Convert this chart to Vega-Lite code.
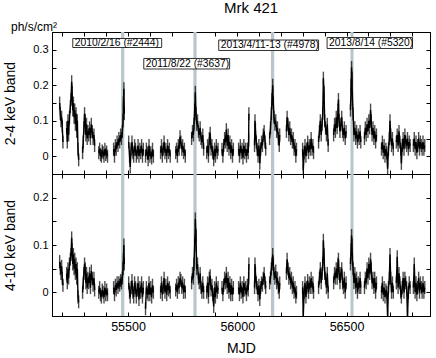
{
"$schema": "https://vega.github.io/schema/vega-lite/v6.json",
"padding": {"left": 3, "top": 0, "right": 4, "bottom": 2},
"bounds": "flush",
"title": {"text": "Mrk 421", "fontSize": 15, "fontWeight": "normal", "font": "Liberation Sans", "color": "#000", "anchor": "middle", "offset": 5, "dx": 34},
"datasets": {
"bands": [{"s":55468,"e":55483},{"s":55799,"e":55814},{"s":56154,"e":56169},{"s":56518,"e":56532}],
"notes": [
{"label":"2010/2/16 (#2444)","x0":55247,"x1":55654,"y0":0.3317,"y1":0.3063,"ym":0.319},
{"label":"2011/8/22 (#3637)","x0":55572,"x1":55965,"y0":0.2754,"y1":0.2458,"ym":0.2606},
{"label":"2013/4/11-13 (#4978)","x0":55915,"x1":56372,"y0":0.3275,"y1":0.2979,"ym":0.3127},
{"label":"2013/8/14 (#5320)","x0":56411,"x1":56802,"y0":0.3345,"y1":0.3035,"ym":0.319}
],
"lc": [
{"g":1,"t":55187,"a":0.15,"b":0.065},{"g":1,"t":55190,"a":0.12,"b":0.05},{"g":1,"t":55193,"a":0.10,"b":0.04},{"g":1,"t":55196,"a":0.11,"b":0.055},{"g":1,"t":55199,"a":0.085,"b":0.03},{"g":1,"t":55202,"a":0.04,"b":0.015},
{"g":2,"t":55219,"a":0.08,"b":0.04},{"g":2,"t":55222,"a":0.04,"b":0.02},{"g":2,"t":55225,"a":0.1,"b":0.05},{"g":2,"t":55228,"a":0.06,"b":0.03},{"g":2,"t":55232,"a":0.11,"b":0.06},{"g":2,"t":55236,"a":0.14,"b":0.07},{"g":2,"t":55239,"a":0.16,"b":0.08},{"g":2,"t":55242,"a":0.21,"b":0.115},{"g":2,"t":55244,"a":0.18,"b":0.09},{"g":2,"t":55247,"a":0.13,"b":0.06},{"g":2,"t":55250,"a":0.15,"b":0.08},{"g":2,"t":55253,"a":0.11,"b":0.05},{"g":2,"t":55256,"a":0.13,"b":0.07},{"g":2,"t":55259,"a":0.09,"b":0.04},{"g":2,"t":55262,"a":0.12,"b":0.06},{"g":2,"t":55265,"a":0.07,"b":0.03},{"g":2,"t":55268,"a":0.1,"b":0.05},{"g":2,"t":55271,"a":0.02,"b":-0.01},{"g":2,"t":55274,"a":-0.01,"b":-0.02},
{"g":3,"t":55292,"a":0.01,"b":0.0},{"g":3,"t":55295,"a":0.04,"b":0.02},{"g":3,"t":55298,"a":0.08,"b":0.04},{"g":3,"t":55301,"a":0.12,"b":0.06},{"g":3,"t":55304,"a":0.1,"b":0.05},{"g":3,"t":55307,"a":0.06,"b":0.02},{"g":3,"t":55310,"a":0.09,"b":0.04},{"g":3,"t":55313,"a":0.05,"b":0.01},{"g":3,"t":55316,"a":0.07,"b":0.03},{"g":3,"t":55320,"a":0.06,"b":0.02},{"g":3,"t":55324,"a":0.08,"b":0.04},{"g":3,"t":55328,"a":0.05,"b":0.01},{"g":3,"t":55332,"a":0.09,"b":0.045},{"g":3,"t":55336,"a":0.07,"b":0.03},{"g":3,"t":55340,"a":0.05,"b":0.015},{"g":3,"t":55344,"a":0.06,"b":0.03},{"g":3,"t":55347,"a":0.03,"b":0.005},
{"g":4,"t":55366,"a":0.01,"b":0.0},{"g":4,"t":55370,"a":0.02,"b":0.01},{"g":4,"t":55374,"a":0.005,"b":-0.005},{"g":4,"t":55378,"a":0.0,"b":-0.01},{"g":4,"t":55382,"a":0.015,"b":0.005},{"g":4,"t":55386,"a":0.01,"b":0.0},{"g":4,"t":55390,"a":0.0,"b":-0.01},{"g":4,"t":55394,"a":0.02,"b":0.01},{"g":4,"t":55398,"a":0.005,"b":-0.005},{"g":4,"t":55402,"a":0.012,"b":0.005},{"g":4,"t":55406,"a":0.0,"b":-0.005},
{"g":5,"t":55434,"a":0.02,"b":0.01},{"g":5,"t":55438,"a":0.0,"b":-0.005},{"g":5,"t":55442,"a":0.03,"b":0.015},{"g":5,"t":55446,"a":0.02,"b":0.005},{"g":5,"t":55450,"a":0.04,"b":0.02},{"g":5,"t":55454,"a":0.03,"b":0.01},{"g":5,"t":55458,"a":0.05,"b":0.02},{"g":5,"t":55462,"a":0.04,"b":0.015},{"g":5,"t":55466,"a":0.06,"b":0.025},{"g":5,"t":55470,"a":0.05,"b":0.02},{"g":5,"t":55474,"a":0.07,"b":0.03},{"g":5,"t":55477,"a":0.1,"b":0.05},{"g":5,"t":55479,"a":0.15,"b":0.07},{"g":5,"t":55481,"a":0.19,"b":0.1},{"g":5,"t":55483,"a":0.12,"b":0.06},
{"g":6,"t":55503,"a":0.04,"b":0.02},{"g":6,"t":55507,"a":0.0,"b":0.0},{"g":6,"t":55510,"a":-0.03,"b":-0.01},{"g":6,"t":55514,"a":0.02,"b":0.01},{"g":6,"t":55518,"a":0.04,"b":0.025},{"g":6,"t":55522,"a":0.01,"b":0.0},{"g":6,"t":55526,"a":0.0,"b":-0.01},{"g":6,"t":55530,"a":0.03,"b":0.02},{"g":6,"t":55534,"a":0.02,"b":0.01},{"g":6,"t":55538,"a":0.0,"b":-0.01},{"g":6,"t":55542,"a":0.01,"b":0.005},{"g":6,"t":55546,"a":0.03,"b":0.02},{"g":6,"t":55550,"a":0.0,"b":-0.015},{"g":6,"t":55554,"a":0.02,"b":0.01},{"g":6,"t":55558,"a":0.01,"b":0.0},{"g":6,"t":55562,"a":0.03,"b":0.02},{"g":6,"t":55566,"a":0.0,"b":-0.01},{"g":6,"t":55570,"a":0.02,"b":0.01},
{"g":7,"t":55580,"a":0.0,"b":-0.035},{"g":7,"t":55584,"a":0.02,"b":0.01},{"g":7,"t":55588,"a":0.01,"b":0.0},{"g":7,"t":55592,"a":-0.01,"b":-0.005},{"g":7,"t":55596,"a":0.03,"b":0.02},{"g":7,"t":55600,"a":0.0,"b":-0.005},{"g":7,"t":55604,"a":0.01,"b":0.01},{"g":7,"t":55608,"a":-0.005,"b":-0.01},{"g":7,"t":55612,"a":0.02,"b":0.015},{"g":7,"t":55616,"a":0.0,"b":0.0},
{"g":8,"t":55649,"a":0.01,"b":0.0},{"g":8,"t":55653,"a":0.03,"b":0.02},{"g":8,"t":55657,"a":0.0,"b":-0.005},{"g":8,"t":55661,"a":0.02,"b":0.01},{"g":8,"t":55665,"a":0.04,"b":0.03},{"g":8,"t":55669,"a":0.01,"b":0.0},{"g":8,"t":55673,"a":0.02,"b":0.015},{"g":8,"t":55677,"a":0.0,"b":-0.005},{"g":8,"t":55681,"a":0.03,"b":0.02},{"g":8,"t":55685,"a":0.01,"b":0.005},{"g":8,"t":55689,"a":0.02,"b":0.01},{"g":8,"t":55693,"a":0.0,"b":0.0},
{"g":9,"t":55718,"a":0.01,"b":0.005},{"g":9,"t":55722,"a":0.02,"b":0.015},{"g":9,"t":55726,"a":0.0,"b":0.0},{"g":9,"t":55730,"a":0.03,"b":0.02},{"g":9,"t":55734,"a":0.02,"b":0.01},{"g":9,"t":55738,"a":0.055,"b":0.03},{"g":9,"t":55742,"a":0.04,"b":0.025},{"g":9,"t":55746,"a":0.02,"b":0.01},{"g":9,"t":55750,"a":0.03,"b":0.02},{"g":9,"t":55754,"a":0.01,"b":0.0},{"g":9,"t":55758,"a":0.02,"b":0.015},{"g":9,"t":55762,"a":0.0,"b":0.0},
{"g":10,"t":55791,"a":0.05,"b":0.02},{"g":10,"t":55795,"a":0.07,"b":0.04},{"g":10,"t":55799,"a":0.06,"b":0.03},{"g":10,"t":55802,"a":0.09,"b":0.06},{"g":10,"t":55805,"a":0.13,"b":0.1},{"g":10,"t":55808,"a":0.18,"b":0.155},{"g":10,"t":55811,"a":0.12,"b":0.12},{"g":10,"t":55814,"a":0.09,"b":0.05},{"g":10,"t":55818,"a":0.1,"b":0.06},{"g":10,"t":55822,"a":0.07,"b":0.03},{"g":10,"t":55826,"a":0.06,"b":0.02},{"g":10,"t":55830,"a":0.08,"b":0.04},{"g":10,"t":55834,"a":0.05,"b":0.01},{"g":10,"t":55838,"a":0.04,"b":0.0},{"g":10,"t":55842,"a":0.06,"b":0.02},{"g":10,"t":55846,"a":0.02,"b":0.0},
{"g":11,"t":55860,"a":0.01,"b":0.0},{"g":11,"t":55864,"a":0.03,"b":0.02},{"g":11,"t":55868,"a":0.0,"b":-0.01},{"g":11,"t":55872,"a":0.05,"b":0.03},{"g":11,"t":55876,"a":0.065,"b":0.035},{"g":11,"t":55880,"a":0.02,"b":0.005},{"g":11,"t":55884,"a":0.03,"b":0.015},{"g":11,"t":55888,"a":0.01,"b":-0.005},{"g":11,"t":55892,"a":-0.01,"b":-0.03},{"g":11,"t":55896,"a":0.02,"b":0.01},{"g":11,"t":55900,"a":0.0,"b":-0.01},{"g":11,"t":55904,"a":0.03,"b":0.02},{"g":11,"t":55908,"a":0.01,"b":0.0},{"g":11,"t":55912,"a":0.02,"b":0.01},
{"g":12,"t":55930,"a":0.02,"b":0.01},{"g":12,"t":55934,"a":0.0,"b":-0.005},{"g":12,"t":55938,"a":0.03,"b":0.015},{"g":12,"t":55942,"a":0.05,"b":0.03},{"g":12,"t":55946,"a":0.04,"b":0.02},{"g":12,"t":55950,"a":0.075,"b":0.04},{"g":12,"t":55954,"a":0.03,"b":0.01},{"g":12,"t":55958,"a":0.06,"b":0.03},{"g":12,"t":55962,"a":0.02,"b":0.0},{"g":12,"t":55966,"a":0.04,"b":0.02},{"g":12,"t":55970,"a":0.01,"b":-0.005},{"g":12,"t":55974,"a":0.03,"b":0.015},{"g":12,"t":55978,"a":0.0,"b":-0.005},{"g":12,"t":55982,"a":0.02,"b":0.01},
{"g":13,"t":56006,"a":0.02,"b":0.01},{"g":13,"t":56010,"a":0.0,"b":-0.005},{"g":13,"t":56014,"a":0.03,"b":0.02},{"g":13,"t":56018,"a":0.01,"b":0.0},{"g":13,"t":56022,"a":0.02,"b":0.01},{"g":13,"t":56026,"a":-0.005,"b":-0.01},{"g":13,"t":56030,"a":0.03,"b":0.02},{"g":13,"t":56034,"a":0.01,"b":0.005},{"g":13,"t":56038,"a":0.02,"b":0.01},{"g":13,"t":56042,"a":0.0,"b":-0.005},{"g":13,"t":56046,"a":0.02,"b":0.015},{"g":13,"t":56050,"a":0.01,"b":0.005},{"g":13,"t":56052,"a":0.045,"b":0.03},{"g":13,"t":56053,"a":0.12,"b":0.06},
{"g":14,"t":56079,"a":0.03,"b":0.01},{"g":14,"t":56081,"a":0.1,"b":0.06},{"g":14,"t":56083,"a":0.075,"b":0.04},{"g":14,"t":56087,"a":0.04,"b":0.02},{"g":14,"t":56091,"a":0.02,"b":0.01},{"g":14,"t":56095,"a":0.0,"b":-0.005},{"g":14,"t":56099,"a":0.03,"b":0.015},{"g":14,"t":56103,"a":-0.02,"b":-0.015},{"g":14,"t":56107,"a":0.02,"b":0.01},{"g":14,"t":56111,"a":0.04,"b":0.02},{"g":14,"t":56115,"a":0.03,"b":0.015},{"g":14,"t":56119,"a":0.06,"b":0.03},{"g":14,"t":56123,"a":0.07,"b":0.04},{"g":14,"t":56127,"a":0.04,"b":0.02},{"g":14,"t":56130,"a":0.02,"b":0.01},
{"g":15,"t":56148,"a":0.05,"b":0.02},{"g":15,"t":56152,"a":0.08,"b":0.03},{"g":15,"t":56156,"a":0.12,"b":0.05},{"g":15,"t":56159,"a":0.16,"b":0.06},{"g":15,"t":56162,"a":0.2,"b":0.08},{"g":15,"t":56165,"a":0.15,"b":0.06},{"g":15,"t":56168,"a":0.11,"b":0.04},{"g":15,"t":56172,"a":0.09,"b":0.03},{"g":15,"t":56176,"a":0.1,"b":0.045},{"g":15,"t":56180,"a":0.07,"b":0.02},{"g":15,"t":56184,"a":0.08,"b":0.03},{"g":15,"t":56188,"a":0.05,"b":0.01},{"g":15,"t":56192,"a":0.03,"b":0.0},{"g":15,"t":56194,"a":0.06,"b":0.02},
{"g":16,"t":56225,"a":0.07,"b":0.04},{"g":16,"t":56228,"a":0.11,"b":0.07},{"g":16,"t":56232,"a":0.09,"b":0.05},{"g":16,"t":56236,"a":0.06,"b":0.03},{"g":16,"t":56240,"a":0.08,"b":0.04},{"g":16,"t":56244,"a":0.05,"b":0.02},{"g":16,"t":56248,"a":0.06,"b":0.03},{"g":16,"t":56252,"a":0.04,"b":0.01},{"g":16,"t":56256,"a":0.05,"b":0.02},{"g":16,"t":56260,"a":0.02,"b":0.0},{"g":16,"t":56264,"a":0.03,"b":0.01},{"g":16,"t":56268,"a":0.0,"b":-0.01},{"g":16,"t":56271,"a":0.02,"b":0.0},
{"g":17,"t":56299,"a":0.02,"b":0.01},{"g":17,"t":56302,"a":-0.04,"b":-0.05},{"g":17,"t":56306,"a":0.01,"b":0.0},{"g":17,"t":56310,"a":0.03,"b":0.02},{"g":17,"t":56314,"a":0.0,"b":-0.01},{"g":17,"t":56318,"a":0.02,"b":0.01},{"g":17,"t":56322,"a":0.04,"b":0.025},{"g":17,"t":56326,"a":0.01,"b":0.0},{"g":17,"t":56330,"a":0.03,"b":0.02},{"g":17,"t":56334,"a":0.02,"b":0.01},{"g":17,"t":56338,"a":0.05,"b":0.03},{"g":17,"t":56342,"a":0.02,"b":0.01},{"g":17,"t":56346,"a":0.03,"b":0.02},{"g":17,"t":56349,"a":0.01,"b":0.0},
{"g":18,"t":56372,"a":0.04,"b":0.01},{"g":18,"t":56376,"a":0.07,"b":0.03},{"g":18,"t":56380,"a":0.1,"b":0.05},{"g":18,"t":56384,"a":0.06,"b":0.02},{"g":18,"t":56388,"a":0.09,"b":0.04},{"g":18,"t":56391,"a":0.12,"b":0.06},{"g":18,"t":56394,"a":0.22,"b":0.11},{"g":18,"t":56397,"a":0.18,"b":0.08},{"g":18,"t":56400,"a":0.1,"b":0.04},{"g":18,"t":56404,"a":0.08,"b":0.03},{"g":18,"t":56408,"a":0.06,"b":0.01},{"g":18,"t":56412,"a":0.09,"b":0.04},{"g":18,"t":56416,"a":0.03,"b":0.0},
{"g":19,"t":56441,"a":0.06,"b":0.02},{"g":19,"t":56445,"a":0.09,"b":0.04},{"g":19,"t":56449,"a":0.07,"b":0.03},{"g":19,"t":56453,"a":0.11,"b":0.05},{"g":19,"t":56457,"a":0.08,"b":0.03},{"g":19,"t":56461,"a":0.13,"b":0.06},{"g":19,"t":56463,"a":0.16,"b":0.07},{"g":19,"t":56466,"a":0.1,"b":0.04},{"g":19,"t":56470,"a":0.07,"b":0.02},{"g":19,"t":56474,"a":0.09,"b":0.04},{"g":19,"t":56478,"a":0.11,"b":0.05},{"g":19,"t":56482,"a":0.07,"b":0.02},{"g":19,"t":56486,"a":0.06,"b":0.01},{"g":19,"t":56490,"a":0.08,"b":0.03},{"g":19,"t":56494,"a":0.05,"b":0.0},{"g":19,"t":56498,"a":0.07,"b":0.02},
{"g":20,"t":56518,"a":0.13,"b":0.06},{"g":20,"t":56521,"a":0.2,"b":0.09},{"g":20,"t":56523,"a":0.25,"b":0.12},{"g":20,"t":56525,"a":0.22,"b":0.1},{"g":20,"t":56527,"a":0.16,"b":0.07},{"g":20,"t":56530,"a":0.12,"b":0.05},{"g":20,"t":56534,"a":0.06,"b":0.02},{"g":20,"t":56538,"a":0.08,"b":0.04},{"g":20,"t":56542,"a":0.05,"b":0.01},{"g":20,"t":56546,"a":0.07,"b":0.03},{"g":20,"t":56550,"a":0.04,"b":0.0},{"g":20,"t":56554,"a":0.06,"b":0.02},{"g":20,"t":56558,"a":0.05,"b":0.01},{"g":20,"t":56562,"a":0.07,"b":0.03},{"g":20,"t":56565,"a":0.04,"b":0.01},
{"g":21,"t":56582,"a":0.05,"b":0.01},{"g":21,"t":56586,"a":0.08,"b":0.03},{"g":21,"t":56590,"a":0.06,"b":0.02},{"g":21,"t":56594,"a":0.09,"b":0.05},{"g":21,"t":56598,"a":0.07,"b":0.03},{"g":21,"t":56602,"a":0.1,"b":0.06},{"g":21,"t":56606,"a":0.08,"b":0.04},{"g":21,"t":56610,"a":0.13,"b":0.07},{"g":21,"t":56613,"a":0.1,"b":0.05},{"g":21,"t":56617,"a":0.06,"b":0.02},{"g":21,"t":56621,"a":0.08,"b":0.03},{"g":21,"t":56625,"a":0.05,"b":0.01},{"g":21,"t":56629,"a":0.07,"b":0.03},{"g":21,"t":56633,"a":0.04,"b":0.0},{"g":21,"t":56637,"a":0.06,"b":0.02},
{"g":22,"t":56660,"a":0.02,"b":0.0},{"g":22,"t":56664,"a":0.04,"b":0.02},{"g":22,"t":56668,"a":0.01,"b":-0.005},{"g":22,"t":56672,"a":0.03,"b":0.01},{"g":22,"t":56676,"a":0.0,"b":-0.01},{"g":22,"t":56680,"a":0.02,"b":0.005},{"g":22,"t":56684,"a":0.01,"b":0.0},{"g":22,"t":56688,"a":-0.035,"b":-0.05},{"g":22,"t":56692,"a":0.02,"b":0.01},{"g":22,"t":56696,"a":0.05,"b":0.03},{"g":22,"t":56699,"a":0.1,"b":0.08},{"g":22,"t":56702,"a":0.06,"b":0.03},{"g":22,"t":56706,"a":0.03,"b":0.0},{"g":22,"t":56710,"a":0.05,"b":0.02},{"g":22,"t":56714,"a":0.02,"b":0.0},
{"g":23,"t":56728,"a":0.04,"b":0.02},{"g":23,"t":56732,"a":0.06,"b":0.075},{"g":23,"t":56736,"a":0.03,"b":0.01},{"g":23,"t":56740,"a":0.07,"b":0.04},{"g":23,"t":56744,"a":0.04,"b":0.02},{"g":23,"t":56748,"a":0.02,"b":0.0},{"g":23,"t":56751,"a":-0.02,"b":-0.01},{"g":23,"t":56755,"a":0.03,"b":0.01},{"g":23,"t":56759,"a":0.05,"b":0.03},{"g":23,"t":56763,"a":0.02,"b":0.0},{"g":23,"t":56767,"a":0.06,"b":0.03},{"g":23,"t":56771,"a":0.04,"b":0.02},{"g":23,"t":56775,"a":0.03,"b":0.01},{"g":23,"t":56779,"a":0.05,"b":-0.05},{"g":23,"t":56783,"a":0.02,"b":0.0},{"g":23,"t":56787,"a":0.04,"b":0.02},{"g":23,"t":56791,"a":0.03,"b":0.01},
{"g":24,"t":56806,"a":0.03,"b":0.01},{"g":24,"t":56810,"a":0.05,"b":0.06},{"g":24,"t":56814,"a":0.02,"b":0.0},{"g":24,"t":56818,"a":0.04,"b":0.02},{"g":24,"t":56822,"a":0.01,"b":-0.005},{"g":24,"t":56826,"a":0.03,"b":0.01},{"g":24,"t":56830,"a":0.05,"b":0.03},{"g":24,"t":56834,"a":0.02,"b":0.0},{"g":24,"t":56838,"a":0.04,"b":0.02},{"g":24,"t":56842,"a":0.03,"b":0.01},{"g":24,"t":56846,"a":0.02,"b":0.0},{"g":24,"t":56850,"a":0.04,"b":0.02},{"g":24,"t":56854,"a":0.02,"b":0.0},{"g":24,"t":56858,"a":0.03,"b":0.01}
]
},
"spacing": 0,
"vconcat": [
{
"width": 378, "height": 142,
"title": {"text": "ph/s/cm²", "anchor": "start", "frame": "group", "dx": -41, "fontSize": 12, "fontWeight": "normal", "offset": -8},
"layer": [
{"data": {"name": "bands"}, "mark": {"type": "rect", "color": "#b9c7cc"},
 "encoding": {"x": {"field": "s", "type": "quantitative", "scale": {"domain": [55152, 56882], "nice": false, "zero": false}, "axis": null}, "x2": {"field": "e"}}},
{"data": {"name": "lc"}, "mark": {"type": "line", "color": "#000", "strokeWidth": 1.4, "clip": true},
 "encoding": {
  "x": {"field": "t", "type": "quantitative", "scale": {"domain": [55152, 56882], "nice": false, "zero": false},
        "axis": {"orient": "bottom", "values": [55200,55300,55400,55500,55600,55700,55800,55900,56000,56100,56200,56300,56400,56500,56600,56700,56800], "labels": false, "title": null}},
  "y": {"field": "a", "type": "quantitative", "scale": {"domain": [-0.05, 0.35], "nice": false, "zero": false},
        "axis": {"orient": "left", "values": [-0.05,0,0.05,0.1,0.15,0.2,0.25,0.3,0.35], "labelOverlap": false, "labelFlush": false,
                 "labelExpr": "abs(datum.value*10-round(datum.value*10))<0.001 ? (abs(datum.value)<0.001 ? '0' : format(datum.value,'.1f')) : ''",
                 "title": "2-4 keV band", "titlePadding": 15}},
  "detail": {"field": "g"}}},
{"data": {"name": "lc"}, "mark": {"type": "tick", "orient": "vertical", "color": "#000", "size": 13, "thickness": 1.4, "clip": true},
 "encoding": {
  "x": {"field": "t", "type": "quantitative", "scale": {"domain": [55152, 56882], "nice": false, "zero": false},
        "axis": {"orient": "top", "values": [55200,55300,55400,55500,55600,55700,55800,55900,56000,56100,56200,56300,56400,56500,56600,56700,56800], "labels": false, "title": null}},
  "y": {"field": "a", "type": "quantitative", "scale": {"domain": [-0.05, 0.35], "nice": false, "zero": false},
        "axis": {"orient": "right", "values": [-0.05,0,0.05,0.1,0.15,0.2,0.25,0.3,0.35], "labels": false, "title": null}}}},
{"data": {"name": "notes"}, "mark": {"type": "rect", "fill": "#fff", "stroke": "#333", "strokeWidth": 1},
 "encoding": {
  "x": {"field": "x0", "type": "quantitative", "scale": {"domain": [55152, 56882], "nice": false, "zero": false}, "axis": null}, "x2": {"field": "x1"},
  "y": {"field": "y0", "type": "quantitative", "scale": {"domain": [-0.05, 0.35], "nice": false, "zero": false}, "axis": null}, "y2": {"field": "y1"}}},
{"data": {"name": "notes"}, "mark": {"type": "text", "align": "left", "baseline": "middle", "dx": 2, "fontSize": 10.3, "color": "#000"},
 "encoding": {
  "x": {"field": "x0", "type": "quantitative", "scale": {"domain": [55152, 56882], "nice": false, "zero": false}, "axis": null},
  "y": {"field": "ym", "type": "quantitative", "scale": {"domain": [-0.05, 0.35], "nice": false, "zero": false}, "axis": null},
  "text": {"field": "label"}}}
],
"resolve": {"axis": {"x": "independent", "y": "independent"}}
},
{
"width": 378, "height": 142,
"layer": [
{"data": {"name": "bands"}, "mark": {"type": "rect", "color": "#b9c7cc"},
 "encoding": {"x": {"field": "s", "type": "quantitative", "scale": {"domain": [55152, 56882], "nice": false, "zero": false}, "axis": null}, "x2": {"field": "e"}}},
{"data": {"name": "lc"}, "mark": {"type": "line", "color": "#000", "strokeWidth": 1.4, "clip": true},
 "encoding": {
  "x": {"field": "t", "type": "quantitative", "scale": {"domain": [55152, 56882], "nice": false, "zero": false},
        "axis": {"orient": "bottom", "values": [55200,55300,55400,55500,55600,55700,55800,55900,56000,56100,56200,56300,56400,56500,56600,56700,56800], "labelOverlap": false, "labelFlush": false, "labelFontSize": 12.5,
                 "labelExpr": "datum.value % 500 == 0 ? format(datum.value,'d') : ''", "title": "MJD", "titlePadding": 9}},
  "y": {"field": "b", "type": "quantitative", "scale": {"domain": [-0.05, 0.25], "nice": false, "zero": false},
        "axis": {"orient": "left", "values": [-0.05,0,0.05,0.1,0.15,0.2,0.25], "labelOverlap": false, "labelFlush": false,
                 "labelExpr": "abs(datum.value*10-round(datum.value*10))<0.001 ? (abs(datum.value)<0.001 ? '0' : format(datum.value,'.1f')) : ''",
                 "title": "4-10 keV band", "titlePadding": 15}},
  "detail": {"field": "g"}}},
{"data": {"name": "lc"}, "mark": {"type": "tick", "orient": "vertical", "color": "#000", "size": 13, "thickness": 1.4, "clip": true},
 "encoding": {
  "x": {"field": "t", "type": "quantitative", "scale": {"domain": [55152, 56882], "nice": false, "zero": false},
        "axis": {"orient": "top", "values": [55200,55300,55400,55500,55600,55700,55800,55900,56000,56100,56200,56300,56400,56500,56600,56700,56800], "labels": false, "title": null}},
  "y": {"field": "b", "type": "quantitative", "scale": {"domain": [-0.05, 0.25], "nice": false, "zero": false},
        "axis": {"orient": "right", "values": [-0.05,0,0.05,0.1,0.15,0.2,0.25], "labels": false, "title": null}}}}
],
"resolve": {"axis": {"x": "independent", "y": "independent"}}
}
],
"config": {
 "font": "Liberation Sans",
 "view": {"stroke": "#000", "strokeWidth": 1},
 "axis": {"grid": false, "domainColor": "#000", "tickColor": "#000", "labelColor": "#000", "titleColor": "#000",
          "labelFont": "Liberation Sans", "titleFont": "Liberation Sans", "titleFontWeight": "normal", "minExtent": 0,
          "tickSize": -4, "labelPadding": 8, "labelFontSize": 11, "titleFontSize": 14, "domainWidth": 1, "tickWidth": 1},
 "title": {"color": "#000", "font": "Liberation Sans"}
}
}
